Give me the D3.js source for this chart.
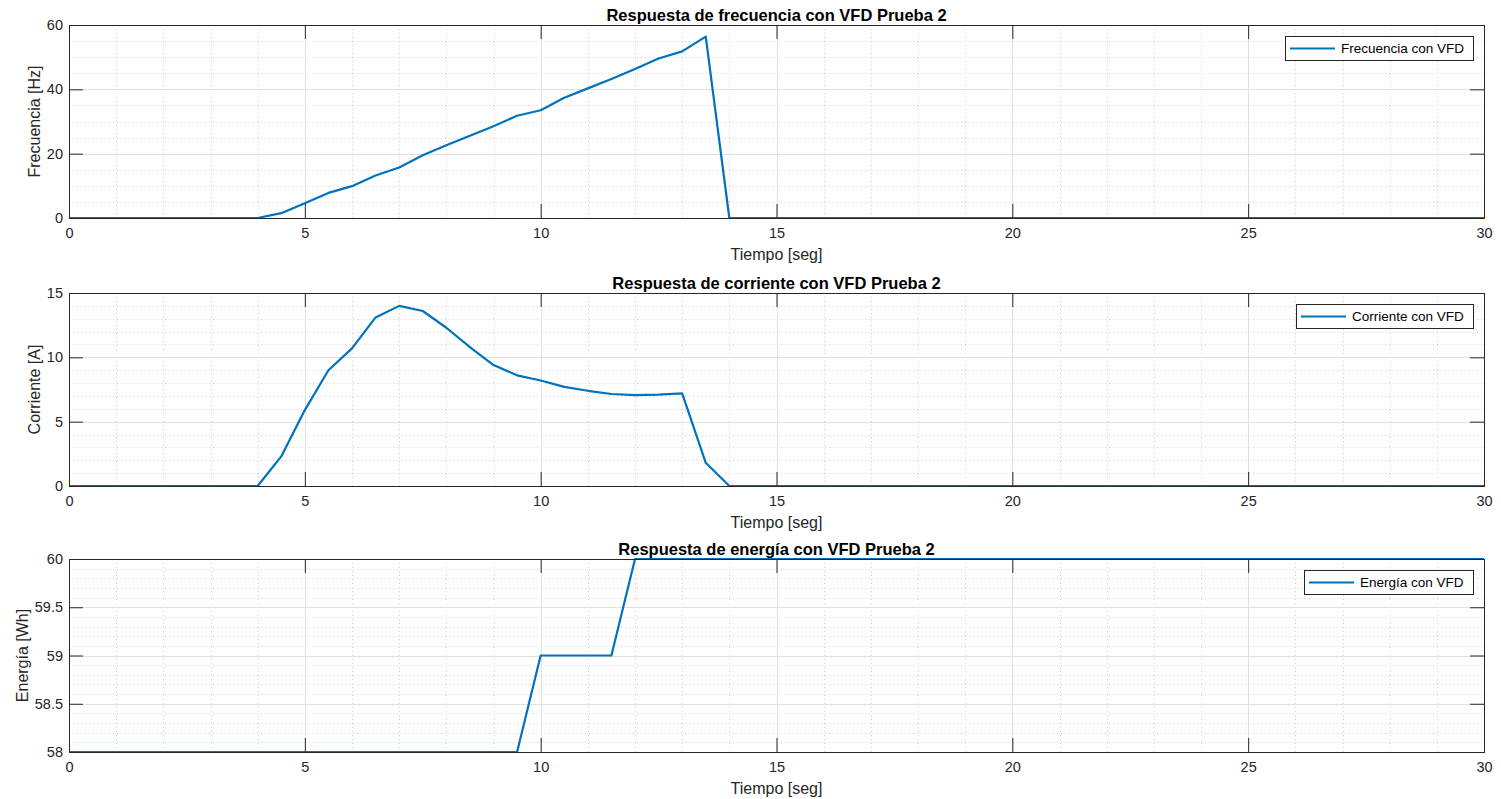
<!DOCTYPE html>
<html>
<head>
<meta charset="utf-8">
<script src="https://cdn.jsdelivr.net/npm/d3@7"></script>
<style>
  body { margin: 0; background: #fff; }
  svg { display: block; font-family: "Liberation Sans", Arial, Helvetica, sans-serif; }
</style>
</head>
<body>
<svg class="fig"></svg>
<script>
// time samples (seg)
const tiempo = [0, 0.5, 1, 1.5, 2, 2.5, 3, 3.5, 4, 4.5, 5, 5.5, 6, 6.5, 7, 7.5, 8, 8.5, 9, 9.5,
  10, 10.5, 11, 11.5, 12, 12.5, 13, 13.5, 14, 14.5, 15, 16, 17, 18, 19, 20, 21, 22, 23, 24, 25, 26, 27, 28, 29, 30];

const frecuencia = [0, 0, 0, 0, 0, 0, 0, 0, 0, 1.5, 4.6, 7.8, 9.9, 13.2, 15.7, 19.5, 22.6, 25.6, 28.5, 31.8,
  33.5, 37.4, 40.3, 43.2, 46.3, 49.6, 51.8, 56.4, 0, 0, 0, 0, 0, 0, 0, 0, 0, 0, 0, 0, 0, 0, 0, 0, 0, 0];

const corriente = [0, 0, 0, 0, 0, 0, 0, 0, 0, 2.3, 5.9, 9.0, 10.7, 13.1, 14.0, 13.6, 12.3, 10.8, 9.4, 8.6,
  8.2, 7.7, 7.4, 7.15, 7.06, 7.1, 7.2, 1.8, 0, 0, 0, 0, 0, 0, 0, 0, 0, 0, 0, 0, 0, 0, 0, 0, 0, 0];

const energia = [58, 58, 58, 58, 58, 58, 58, 58, 58, 58, 58, 58, 58, 58, 58, 58, 58, 58, 58, 58,
  59, 59, 59, 59, 60, 60, 60, 60, 60, 60, 60, 60, 60, 60, 60, 60, 60, 60, 60, 60, 60, 60, 60, 60, 60, 60];

const xTicks = [0, 5, 10, 15, 20, 25, 30];

const panels = [
  { title: 'Respuesta de frecuencia con VFD Prueba 2', ylabel: 'Frecuencia [Hz]', legend: 'Frecuencia con VFD',
    values: frecuencia, domain: [0, 60], ticks: [0, 20, 40, 60], minor: 5, top: 25, labelX: 40 },
  { title: 'Respuesta de corriente con VFD Prueba 2', ylabel: 'Corriente [A]', legend: 'Corriente con VFD',
    values: corriente, domain: [0, 15], ticks: [0, 5, 10, 15], minor: 1, top: 293, labelX: 40 },
  { title: 'Respuesta de energía con VFD Prueba 2', ylabel: 'Energía [Wh]', legend: 'Energía con VFD',
    values: energia, domain: [58, 60], ticks: [58, 58.5, 59, 59.5, 60], minor: 0.1, top: 559, labelX: 28 },
];

const W = 1501;
const H = 799;
const left = 69;
const right = 1484;
const ph = 193;
const tickLen = 14;
const ink = '#262626';
const blue = '#0072BD';

const svg = d3.select('.fig').attr('width', W).attr('height', H);

const x = d3.scaleLinear().domain([0, 30]).range([left, right]);

panels.forEach((p) => {
  const top = p.top;
  const bottom = top + ph;
  const y = d3.scaleLinear().domain(p.domain).range([bottom, top]);
  const g = svg.append('g');

  g.append('rect').attr('x', left).attr('y', top).attr('width', right - left).attr('height', ph)
    .attr('fill', '#fff');

  // minor grid
  const xMinor = d3.range(0, 30.001, 1).filter(v => v % 5 !== 0);
  g.selectAll('.xm').data(xMinor).enter().append('line')
    .attr('x1', d => Math.round(x(d)) + 0.5).attr('x2', d => Math.round(x(d)) + 0.5).attr('y1', top).attr('y2', bottom)
    .attr('stroke', '#d0d0d0').attr('stroke-width', 1).attr('stroke-dasharray', '1,3');
  const n = Math.round((p.domain[1] - p.domain[0]) / p.minor);
  const yMinor = d3.range(0, n + 1).map(i => p.domain[0] + i * p.minor)
    .filter(v => !p.ticks.some(t => Math.abs(t - v) < 1e-6));
  g.selectAll('.ym').data(yMinor).enter().append('line')
    .attr('x1', left).attr('x2', right).attr('y1', d => Math.round(y(d)) + 0.5).attr('y2', d => Math.round(y(d)) + 0.5)
    .attr('stroke', '#d0d0d0').attr('stroke-width', 1).attr('stroke-dasharray', '1,3');

  // major grid
  g.selectAll('.xg').data(xTicks).enter().append('line')
    .attr('x1', d => Math.round(x(d)) + 0.5).attr('x2', d => Math.round(x(d)) + 0.5).attr('y1', top).attr('y2', bottom)
    .attr('stroke', '#e1e1e1').attr('stroke-width', 1);
  g.selectAll('.yg').data(p.ticks).enter().append('line')
    .attr('x1', left).attr('x2', right).attr('y1', d => Math.round(y(d)) + 0.5).attr('y2', d => Math.round(y(d)) + 0.5)
    .attr('stroke', '#e1e1e1').attr('stroke-width', 1);

  // data line
  const line = d3.line().x((d, i) => x(tiempo[i])).y(d => y(d));
  g.append('path').datum(p.values).attr('d', line)
    .attr('fill', 'none').attr('stroke', blue).attr('stroke-width', 2.2).attr('stroke-linejoin', 'round');

  // axes: bottom/left with inward ticks, mirrored on top/right
  const axB = d3.axisBottom(x).tickValues(xTicks).tickSize(-tickLen).tickPadding(10).tickFormat(d3.format('d'));
  const axT = d3.axisTop(x).tickValues(xTicks).tickSize(-tickLen).tickFormat('');
  const axL = d3.axisLeft(y).tickValues(p.ticks).tickSize(-tickLen).tickPadding(6).tickFormat(d => String(d));
  const axR = d3.axisRight(y).tickValues(p.ticks).tickSize(-tickLen).tickFormat('');

  [[axB, `translate(0,${bottom})`], [axT, `translate(0,${top})`],
    [axL, `translate(${left},0)`], [axR, `translate(${right},0)`]].forEach(([ax, tr]) => {
    const a = g.append('g').attr('transform', tr).call(ax);
    a.select('.domain').attr('stroke', ink).attr('stroke-width', 1);
    a.selectAll('.tick line').attr('stroke', ink);
    a.selectAll('.tick text').attr('fill', ink).style('font-size', '14.5px').style('font-family', '"Liberation Sans", Arial, sans-serif');
  });

  // title
  g.append('text').attr('x', (left + right) / 2).attr('y', top - 4).attr('text-anchor', 'middle')
    .style('font-size', '16.5px').style('font-weight', 'bold').attr('fill', '#000').text(p.title);

  // x label
  g.append('text').attr('x', (left + right) / 2).attr('y', bottom + 42).attr('text-anchor', 'middle')
    .style('font-size', '16px').attr('fill', ink).text('Tiempo [seg]');

  // y label
  g.append('text').attr('transform', `translate(${p.labelX},${top + ph / 2}) rotate(-90)`)
    .attr('text-anchor', 'middle').style('font-size', '16px').attr('fill', ink).text(p.ylabel);

  // legend
  const lg = g.append('g');
  const txt = lg.append('text').style('font-size', '13.5px').attr('fill', '#000').text(p.legend);
  const tw = txt.node().getComputedTextLength();
  const bw = Math.round(tw + 65);
  const bx = right - 11 - bw;
  const by = top + 11;
  lg.insert('rect', 'text').attr('x', bx + 0.5).attr('y', by + 0.5).attr('width', bw).attr('height', 24)
    .attr('fill', '#fff').attr('stroke', ink).attr('stroke-width', 1);
  lg.append('line').attr('x1', bx + 5).attr('x2', bx + 50).attr('y1', by + 12.5).attr('y2', by + 12.5)
    .attr('stroke', blue).attr('stroke-width', 2.2);
  txt.attr('x', bx + 56).attr('y', by + 17);
});
</script>
</body>
</html>
